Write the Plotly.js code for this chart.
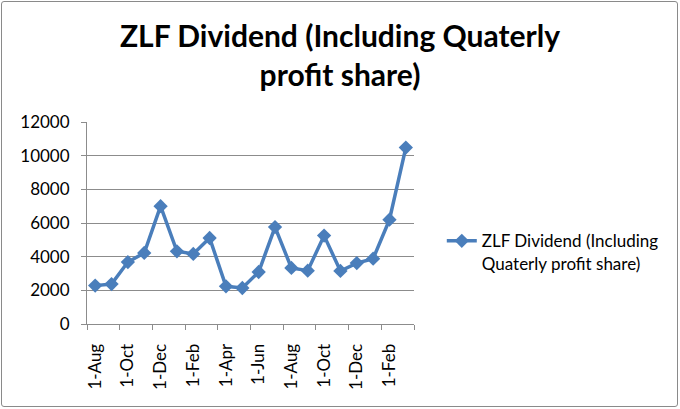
<!DOCTYPE html>
<html>
<head>
<meta charset="utf-8">
<script src="https://cdn.plot.ly/plotly-3.0.1.min.js"></script>
<style>
  body { margin: 0; background: #fff; }
  #wrap { position: relative; width: 680px; height: 409px; }
  #chart { width: 680px; height: 409px; }
  /* rounded grey frame like the Excel chart area */
  #frame {
    position: absolute; left: 1px; top: 1px; width: 675px; height: 404px;
    border: 1.5px solid #8a8a8a; border-radius: 3px; pointer-events: none;
  }
</style>
</head>
<body>
<div id="wrap">
  <div id="chart"></div>
  <div id="frame"></div>
</div>
<script>
// Month labels for each data point (one point per month)
const months = ['1-Aug', '1-Sep', '1-Oct', '1-Nov', '1-Dec', '1-Jan', '1-Feb', '1-Mar', '1-Apr', '1-May',
                '1-Jun', '1-Jul', '1-Aug', '1-Sep', '1-Oct', '1-Nov', '1-Dec', '1-Jan', '1-Feb', '1-Mar'];

// Dividend values
const dividend = [2280, 2370, 3680, 4220, 7000, 4320, 4160, 5110, 2240, 2140,
                  3090, 5760, 3330, 3170, 5250, 3150, 3620, 3880, 6200, 10480];

const seriesName = 'ZLF Dividend (Including<br>Quaterly profit share)';
const chartTitle = 'ZLF Dividend (Including Quaterly<br>profit share)';

// Only every other month is labelled
const xIdx = months.map((m, i) => i);
const labelIdx = xIdx.filter(i => i % 2 === 0);
const labelText = labelIdx.map(i => months[i]);
// tick marks sit between categories, every two months
const boundaryTicks = labelIdx.map(i => i - 0.5).concat([months.length - 0.5]);

const gray = '#8c8c8c';
const fontFam = 'Lato, "Liberation Sans", sans-serif';

const trace = {
    x: xIdx,
    y: dividend,
    name: seriesName,
    mode: 'lines+markers',
    line: { color: '#4a7ebb', width: 3.5 },
    marker: { symbol: 'diamond', size: 11, color: '#4a7ebb' },
    hoverinfo: 'none'
};

// dummy trace on second x axis so the boundary ticks get drawn
const tickTrace = {
    x: [-0.5, months.length - 0.5],
    y: [0, 0],
    xaxis: 'x2',
    mode: 'none',
    showlegend: false,
    hoverinfo: 'none'
};

const layout = {
    width: 680,
    height: 409,
    paper_bgcolor: '#fff',
    plot_bgcolor: '#fff',
    font: { family: fontFam, size: 17, color: '#000' },
    title: {
        text: chartTitle,
        font: { family: fontFam, size: 30, color: '#000', weight: 'bold' },
        x: 0.5,
        xanchor: 'center',
        y: 0.885,
        yanchor: 'middle'
    },
    margin: { l: 87, r: 266, t: 122, b: 85 },
    showlegend: true,
    legend: {
        x: 1.085,
        xanchor: 'left',
        y: 0.355,
        yanchor: 'middle',
        valign: 'top',
        font: { family: fontFam, size: 17, color: '#000' },
        bgcolor: 'rgba(0,0,0,0)'
    },
    xaxis: {
        range: [-0.5, months.length - 0.5],
        tickmode: 'array',
        tickvals: labelIdx,
        ticktext: labelText,
        tickangle: -90,
        ticks: '',
        showgrid: false,
        zeroline: false,
        showline: true,
        linecolor: gray,
        linewidth: 1,
        ticklabelstandoff: 12,
        tickfont: { family: fontFam, size: 17, color: '#000' }
    },
    xaxis2: {
        overlaying: 'x',
        range: [-0.5, months.length - 0.5],
        tickmode: 'array',
        tickvals: boundaryTicks,
        ticktext: boundaryTicks.map(() => ''),
        ticks: 'outside',
        ticklen: 5,
        tickcolor: gray,
        showgrid: false,
        zeroline: false,
        showline: false,
        side: 'bottom',
        anchor: 'y'
    },
    yaxis: {
        range: [0, 12000],
        dtick: 2000,
        tickformat: 'd',
        ticks: 'outside',
        ticklen: 5,
        tickcolor: gray,
        showgrid: true,
        gridcolor: gray,
        gridwidth: 1,
        zeroline: false,
        showline: true,
        linecolor: gray,
        linewidth: 1,
        ticklabelstandoff: 8,
        tickfont: { family: fontFam, size: 17, color: '#000' }
    }
};

Plotly.newPlot('chart', [tickTrace, trace], layout, { displayModeBar: false, staticPlot: true });
</script>
</body>
</html>
